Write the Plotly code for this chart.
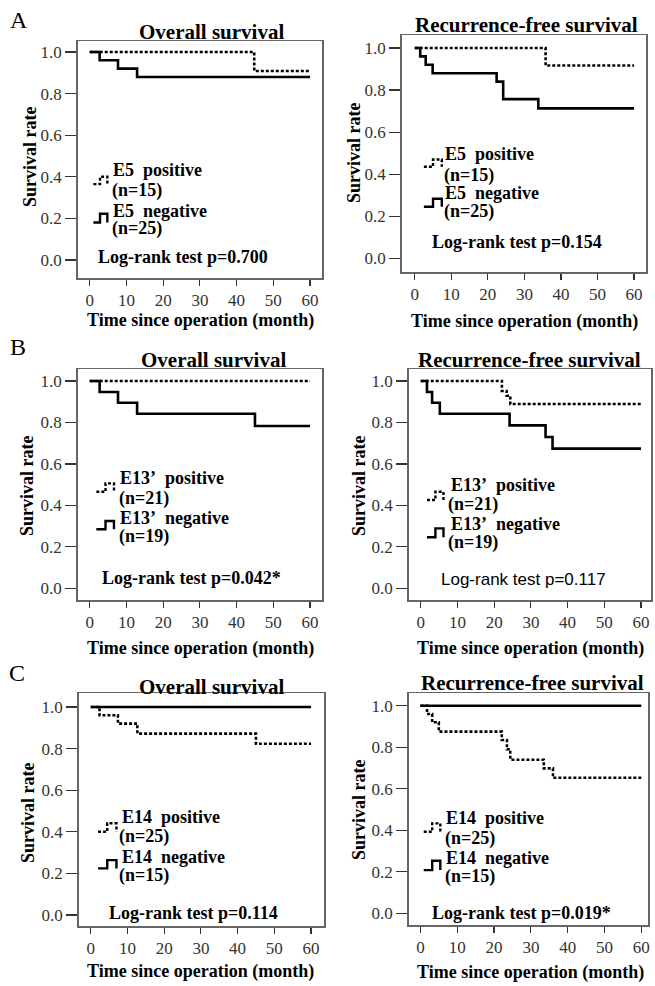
import plotly.graph_objects as go

W, H = 655, 986

# ---------------- data (Kaplan-Meier steps) ----------------
A_os_pos_t = [0, 44.8, 60]
A_os_pos_s = [1.0, 0.909, 0.909]
A_os_neg_t = [0, 2.7, 7.7, 12.9, 60]
A_os_neg_s = [1.0, 0.96, 0.92, 0.88, 0.88]

A_rfs_pos_t = [0, 35.8, 60]
A_rfs_pos_s = [1.0, 0.917, 0.917]
A_rfs_neg_t = [0, 1.5, 3.0, 4.9, 22.4, 24.2, 33.8, 60]
A_rfs_neg_s = [1.0, 0.96, 0.92, 0.88, 0.84, 0.757, 0.713, 0.713]

B_os_pos_t = [0, 60]
B_os_pos_s = [1.0, 1.0]
B_os_neg_t = [0, 2.7, 7.7, 12.9, 45.0, 60]
B_os_neg_s = [1.0, 0.947, 0.895, 0.842, 0.783, 0.783]

B_rfs_pos_t = [0, 22.1, 23.4, 24.4, 60]
B_rfs_pos_s = [1.0, 0.952, 0.929, 0.889, 0.889]
B_rfs_neg_t = [0, 1.7, 3.1, 5.2, 24.2, 34.0, 35.9, 60]
B_rfs_neg_s = [1.0, 0.947, 0.895, 0.842, 0.786, 0.73, 0.674, 0.674]

C_os_pos_t = [0, 2.4, 7.4, 12.7, 45.0, 60]
C_os_pos_s = [1.0, 0.96, 0.92, 0.872, 0.823, 0.823]
C_os_neg_t = [0, 60]
C_os_neg_s = [1.0, 1.0]

C_rfs_pos_t = [0, 1.8, 3.2, 5.0, 22.1, 23.5, 24.4, 33.5, 36.0, 60]
C_rfs_pos_s = [1.0, 0.96, 0.92, 0.875, 0.835, 0.79, 0.74, 0.698, 0.653, 0.653]
C_rfs_neg_t = [0, 60]
C_rfs_neg_s = [1.0, 1.0]

panel_titles = ["Overall survival", "Recurrence-free survival"] * 3
markers = ["E5", "E5", "E13\u2019", "E13\u2019", "E14", "E14"]
n_pos = ["(n=15)", "(n=15)", "(n=21)", "(n=21)", "(n=25)", "(n=25)"]
n_neg = ["(n=25)", "(n=25)", "(n=19)", "(n=19)", "(n=15)", "(n=15)"]
pvalues = ["Log-rank test p=0.700", "Log-rank test p=0.154",
           "Log-rank test p=0.042*", "Log-rank test p=0.117",
           "Log-rank test p=0.114", "Log-rank test p=0.019*"]
x_ticks = [0, 10, 20, 30, 40, 50, 60]
y_ticks = [0.0, 0.2, 0.4, 0.6, 0.8, 1.0]
x_title = "Time since operation (month)"
y_title = "Survival rate"
letters = ["A", "B", "C"]

curves = [
    (A_os_pos_t, A_os_pos_s, A_os_neg_t, A_os_neg_s),
    (A_rfs_pos_t, A_rfs_pos_s, A_rfs_neg_t, A_rfs_neg_s),
    (B_os_pos_t, B_os_pos_s, B_os_neg_t, B_os_neg_s),
    (B_rfs_pos_t, B_rfs_pos_s, B_rfs_neg_t, B_rfs_neg_s),
    (C_os_pos_t, C_os_pos_s, C_os_neg_t, C_os_neg_s),
    (C_rfs_pos_t, C_rfs_pos_s, C_rfs_neg_t, C_rfs_neg_s),
]

# ---------------- layout geometry (pixels) ----------------
# frame left, right, top, bottom, px of t=0, px of t=60, px of s=1, px of s=0
geom = [
    (78, 323, 41, 278, 90, 311, 52, 260),
    (403, 648, 35, 272, 416, 636, 48, 258.3),
    (78, 323, 369, 600, 90, 311, 381, 588.3),
    (410, 653, 369, 600, 422, 643, 381, 588.3),
    (79, 325, 693, 926, 91, 312, 707, 915),
    (410, 650, 693, 925, 421.7, 643.3, 705.7, 913.3),
]
# legend glyph (x0, x1, x2, pos yl, pos yh, neg yl, neg yh)
glyphs = [
    (1.0, 2.8, 4.8, 0.365, 0.40, 0.18, 0.222),
    (2.5, 5.0, 7.4, 0.435, 0.47, 0.245, 0.283),
    (1.8, 4.3, 6.6, 0.466, 0.506, 0.285, 0.325),
    (1.7, 4.0, 6.2, 0.426, 0.466, 0.246, 0.289),
    (2.0, 4.5, 7.0, 0.40, 0.441, 0.224, 0.264),
    (0.9, 3.2, 5.4, 0.393, 0.433, 0.208, 0.253),
]
# (name x, pos name y, n x, pos n y, neg name y, neg n y)
legtext = [
    (5.9, 0.433, 5.4, 0.333, 0.237, 0.152),
    (7.8, 0.495, 7.5, 0.395, 0.309, 0.221),
    (7.7, 0.531, 7.3, 0.434, 0.338, 0.249),
    (7.6, 0.498, 6.9, 0.402, 0.31, 0.22),
    (7.9, 0.473, 7.2, 0.376, 0.28, 0.192),
    (6.5, 0.457, 6.2, 0.361, 0.265, 0.176),
]
logrank_pos = [(1.8, 0.016), (4.3, 0.079), (2.7, 0.048), (4.9, 0.043), (4.3, 0.008), (2.7, 0.003)]
title_pos = [(212, 32), (528, 25), (214, 360), (531, 360), (212, 687), (534, 683)]
ytitle_pos = [(30, 156), (355, 152), (27, 485), (360, 485), (28, 812), (360, 809)]
xtitle_pos = [(201, 320), (526, 321), (201, 648), (532, 648), (201, 971), (532, 972)]
letter_pos = [(19, 20), (18, 347), (17, 673)]

SERIF = "Liberation Serif"
SANS = "Liberation Sans"
DOT = "3px,2px"

def px(x):
    return x / W

def py(y):
    return 1 - y / H

fig = go.Figure()
layout = dict(width=W, height=H, margin=dict(l=0, r=0, t=0, b=0),
              paper_bgcolor="white", plot_bgcolor="white", showlegend=False,
              font=dict(family=SERIF, color="black"))
annotations = []
shapes = []

for i, (g, c) in enumerate(zip(geom, curves)):
    fl, fr, ft, fb, x0, x60, y1, y0 = g
    kx = (x60 - x0) / 60.0
    ky = (y0 - y1)
    xr = [(fl - x0) / kx, (fr - x0) / kx]
    yr = [(y0 - fb) / ky, (y0 - ft) / ky]
    sfx = "" if i == 0 else str(i + 1)
    xa, ya = "x" + sfx, "y" + sfx
    layout["xaxis" + sfx] = dict(
        domain=[px(fl), px(fr)], range=xr, anchor=ya, fixedrange=True,
        tickmode="array", tickvals=x_ticks, ticks="outside", ticklen=6, tickwidth=1.2,
        tickcolor="#333", showline=True, mirror=True, linecolor="#666", linewidth=1.5,
        showgrid=False, zeroline=False, tickfont=dict(family=SERIF, size=17, color="#333"))
    layout["yaxis" + sfx] = dict(
        domain=[py(fb), py(ft)], range=yr, anchor=xa, fixedrange=True,
        tickmode="array", tickvals=y_ticks, tickformat=".1f", ticks="outside", ticklen=11,
        tickwidth=1.2, tickcolor="#333", showline=True, mirror=True, linecolor="#666",
        linewidth=1.5, showgrid=False, zeroline=False,
        tickfont=dict(family=SERIF, size=17, color="#333"))

    pt, ps, nt, ns = c
    fig.add_trace(go.Scatter(x=pt, y=ps, mode="lines", line_shape="hv",
                             line=dict(color="black", width=2.6, dash=DOT),
                             xaxis=xa, yaxis=ya, hoverinfo="skip"))
    fig.add_trace(go.Scatter(x=nt, y=ns, mode="lines", line_shape="hv",
                             line=dict(color="black", width=2.6),
                             xaxis=xa, yaxis=ya, hoverinfo="skip"))

    # legend glyphs
    gx0, gx1, gx2, pyl, pyh, nyl, nyh = glyphs[i]
    shapes.append(dict(type="path", xref=xa, yref=ya,
                       path=f"M {gx0},{pyl} L {gx1},{pyl} L {gx1},{pyh} L {gx2},{pyh} L {gx2},{pyl}",
                       line=dict(color="black", width=2.4, dash=DOT)))
    shapes.append(dict(type="path", xref=xa, yref=ya,
                       path=f"M {gx0},{nyl} L {gx1},{nyl} L {gx1},{nyh} L {gx2},{nyh} L {gx2},{nyl}",
                       line=dict(color="black", width=2.4)))

    tx, tpy, nx, npy, tny, nny = legtext[i]
    bold = dict(family=SERIF, size=18, color="black", weight="bold")
    for txt, xx, yy in [(markers[i] + "\u00a0 positive", tx, tpy), (n_pos[i], nx, npy),
                        (markers[i] + "\u00a0 negative", tx, tny), (n_neg[i], nx, nny)]:
        annotations.append(dict(text=txt, x=xx, y=yy, xref=xa, yref=ya, xanchor="left",
                                yanchor="middle", showarrow=False, font=bold))

    lx, ly = logrank_pos[i]
    if i == 3:
        lfont = dict(family=SANS, size=17, color="black")
    else:
        lfont = bold
    annotations.append(dict(text=pvalues[i], x=lx, y=ly, xref=xa, yref=ya, xanchor="left",
                            yanchor="middle", showarrow=False, font=lfont))

    tpx, tpy2 = title_pos[i]
    annotations.append(dict(text=panel_titles[i], x=px(tpx), y=py(tpy2), xref="paper",
                            yref="paper", xanchor="center", yanchor="middle", showarrow=False,
                            font=dict(family=SERIF, size=21, color="black", weight="bold")))
    yx, yy2 = ytitle_pos[i]
    annotations.append(dict(text=y_title, x=px(yx), y=py(yy2), xref="paper", yref="paper",
                            xanchor="center", yanchor="middle", showarrow=False, textangle=-90,
                            font=dict(family=SERIF, size=18, color="black", weight="bold")))
    xx2, xy2 = xtitle_pos[i]
    annotations.append(dict(text=x_title, x=px(xx2), y=py(xy2), xref="paper", yref="paper",
                            xanchor="center", yanchor="middle", showarrow=False,
                            font=dict(family=SERIF, size=18, color="black", weight="bold")))

for letter, (lx, ly) in zip(letters, letter_pos):
    annotations.append(dict(text=letter, x=px(lx), y=py(ly), xref="paper", yref="paper",
                            xanchor="center", yanchor="middle", showarrow=False,
                            font=dict(family=SERIF, size=24, color="black")))

layout["annotations"] = annotations
layout["shapes"] = shapes
fig.update_layout(**layout)
fig.write_html(
    "out.html",
    config={"displayModeBar": False, "staticPlot": True},
    post_script="document.body.style.margin='0';document.body.style.padding='0';"
                "document.body.style.overflow='hidden';"
                "document.documentElement.style.overflow='hidden';",
)
